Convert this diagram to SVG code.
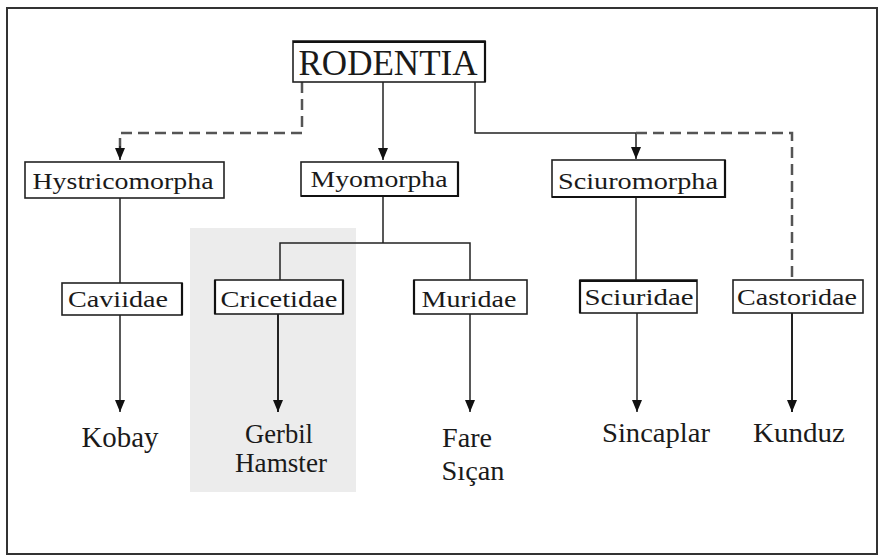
<svg xmlns="http://www.w3.org/2000/svg" width="878" height="556" viewBox="0 0 878 556">
<defs>
<marker id="ah" viewBox="0 0 12 10" refX="12" refY="5" markerWidth="12" markerHeight="10" markerUnits="userSpaceOnUse" orient="auto">
<path d="M0,0 L12,5 L0,10 Z" fill="#111"/>
</marker>
<style>
.box{fill:#fff;stroke:#222;stroke-width:1.6}
.sh{fill:none;stroke:#111;stroke-width:2.2}
.lbl{font-family:"Liberation Serif","Times New Roman",serif;fill:#1a1a1a;text-anchor:middle}
.ln{fill:none;stroke:#222;stroke-width:1.5}
.dash{fill:none;stroke:#555;stroke-width:2.5;stroke-dasharray:11 6}
</style>
</defs>
<rect x="0" y="0" width="878" height="556" fill="#fff"/>
<rect x="7" y="8" width="870" height="546" fill="none" stroke="#333" stroke-width="2"/>
<rect x="190" y="228" width="166" height="264" fill="#ececec"/>

<g id="connectors">
<path class="dash" d="M302,82 V133 H120 V150"/>
<path class="ln" d="M120,146 V160" marker-end="url(#ah)"/>
<path class="ln" d="M383,82 V160" marker-end="url(#ah)"/>
<path class="ln" d="M475,82 V133 H636 V159" marker-end="url(#ah)"/>
<path class="dash" d="M636,133 H792 V280"/>
<path class="ln" d="M120,198 V283"/>
<path class="ln" d="M120,315 V412" marker-end="url(#ah)"/>
<path class="ln" d="M383,196 V243 M280,280 V243 H470 V280"/>
<path class="ln" d="M278,314 V412" marker-end="url(#ah)" style="stroke-width:2"/>
<path class="ln" d="M470,314 V412" marker-end="url(#ah)"/>
<path class="ln" d="M636,197 V280"/>
<path class="ln" d="M637,313 V412" marker-end="url(#ah)"/>
<path class="ln" d="M792,313 V412" marker-end="url(#ah)" style="stroke-width:2"/>
</g>

<g id="rodentia">
<rect class="box" x="293" y="41" width="192" height="41"/>
<path class="sh" d="M293,42 H485 V82"/>
<text class="lbl" x="388" y="75" font-size="35" textLength="179" lengthAdjust="spacingAndGlyphs">RODENTIA</text>
</g>
<g id="hystricomorpha">
<rect class="box" x="25" y="162" width="199" height="36"/>
<text class="lbl" x="123" y="189" font-size="24" textLength="181" lengthAdjust="spacingAndGlyphs">Hystricomorpha</text>
</g>
<g id="myomorpha">
<rect class="box" x="301" y="162" width="157" height="34"/>
<path class="sh" d="M301,196 H458 V162"/>
<text class="lbl" x="379" y="187" font-size="23" textLength="137" lengthAdjust="spacingAndGlyphs">Myomorpha</text>
</g>
<g id="sciuromorpha">
<rect class="box" x="552" y="160" width="173" height="37"/>
<path class="sh" d="M552,197 H725 V160"/>
<text class="lbl" x="638" y="189" font-size="23" textLength="160" lengthAdjust="spacingAndGlyphs">Sciuromorpha</text>
</g>
<g id="caviidae">
<rect class="box" x="62" y="283" width="120" height="32"/>
<path class="sh" d="M182,283 V315"/>
<text class="lbl" x="118" y="307" font-size="23" textLength="100" lengthAdjust="spacingAndGlyphs">Caviidae</text>
</g>
<g id="cricetidae">
<rect class="box" x="215" y="280" width="128" height="34"/>
<path class="sh" d="M215,280 V314 M343,280 V314"/>
<text class="lbl" x="279" y="307" font-size="23" textLength="117" lengthAdjust="spacingAndGlyphs">Cricetidae</text>
</g>
<g id="muridae">
<rect class="box" x="414" y="280" width="113" height="34"/>
<path class="sh" d="M414,280 V314"/>
<text class="lbl" x="469" y="307" font-size="23" textLength="95" lengthAdjust="spacingAndGlyphs">Muridae</text>
</g>
<g id="sciuridae">
<rect class="box" x="580" y="280" width="117" height="33"/>
<path class="sh" d="M580,281 H697 M580,280 V313"/>
<text class="lbl" x="639" y="305" font-size="23" textLength="109" lengthAdjust="spacingAndGlyphs">Sciuridae</text>
</g>
<g id="castoridae">
<rect class="box" x="733" y="280" width="130" height="33"/>
<text class="lbl" x="797" y="305" font-size="23" textLength="120" lengthAdjust="spacingAndGlyphs">Castoridae</text>
</g>
<g id="kobay"><text class="lbl" x="120" y="447" font-size="29" textLength="77" lengthAdjust="spacingAndGlyphs">Kobay</text></g>
<g id="gerbil-hamster">
<text class="lbl" x="279" y="443" font-size="28" textLength="68" lengthAdjust="spacingAndGlyphs">Gerbil</text>
<text class="lbl" x="281" y="472" font-size="28" textLength="92" lengthAdjust="spacingAndGlyphs">Hamster</text>
</g>
<g id="fare-sican">
<text class="lbl" x="467" y="447" font-size="28" textLength="50" lengthAdjust="spacingAndGlyphs">Fare</text>
<text class="lbl" x="473" y="480" font-size="28" textLength="63" lengthAdjust="spacingAndGlyphs">Sıçan</text>
</g>
<g id="sincaplar"><text class="lbl" x="656" y="442" font-size="28" textLength="108" lengthAdjust="spacingAndGlyphs">Sincaplar</text></g>
<g id="kunduz"><text class="lbl" x="799" y="442" font-size="28" textLength="92" lengthAdjust="spacingAndGlyphs">Kunduz</text></g>
</svg>
